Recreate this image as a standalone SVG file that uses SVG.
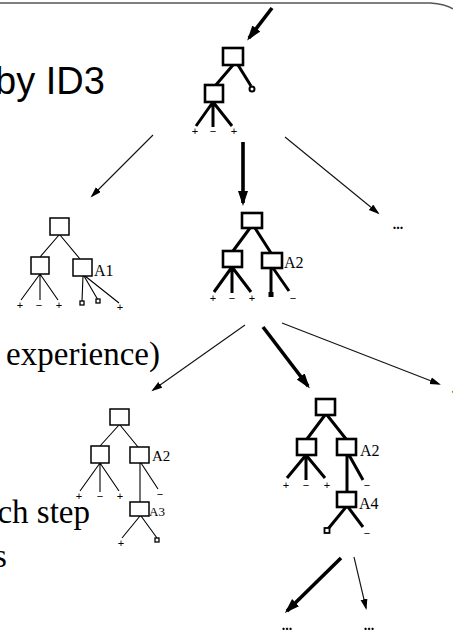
<svg xmlns="http://www.w3.org/2000/svg" width="453" height="632" viewBox="0 0 453 632">
<style>
.bx1{fill:#fff;stroke:#000;stroke-width:1.5}
.bx3{fill:#fff;stroke:#000;stroke-width:2.6}
.e1{stroke:#000;stroke-width:1.1;fill:none}
.e3{stroke:#000;stroke-width:3;fill:none}
.lf{font-family:"Liberation Sans",Arial,sans-serif;font-size:11px;fill:#000;text-anchor:middle}
.at{font-family:"Liberation Serif","Times New Roman",serif;fill:#000}
.dots{font-family:"Liberation Serif","Times New Roman",serif;font-size:14px;font-weight:bold;fill:#000;text-anchor:middle}
.big{font-family:"Liberation Serif","Times New Roman",serif;font-size:33px;fill:#000}
.thin{stroke:#111;stroke-width:1.1;fill:none}
.thick{stroke:#000;stroke-width:3.6;fill:none}
</style>
<defs>
<marker id="hThin" markerUnits="userSpaceOnUse" markerWidth="12" markerHeight="8" refX="9" refY="3.5" orient="auto"><path d="M0,0 L11,3.5 L0,7 Z" fill="#000"/></marker>
<marker id="hThick" markerUnits="userSpaceOnUse" markerWidth="16" markerHeight="11" refX="12" refY="5" orient="auto"><path d="M0,0 L15,5 L0,10 Z" fill="#000"/></marker>
</defs>
<rect width="453" height="632" fill="#fff"/>
<g id="frame">
<path d="M0,3 H430 Q446,4 453,9" fill="none" stroke="#555" stroke-width="1.5"/>
</g>
<g id="text">
<text x="-5" y="94" font-family="'Liberation Sans',Arial,sans-serif" font-size="38" fill="#000">by ID3</text>
<text class="big" x="160" y="365" text-anchor="end">experience)</text>
<text class="big" x="90" y="523" text-anchor="end">ch step</text>
<text class="big" x="-6" y="567">s</text>
</g>
<g id="connectors">
<line class="thick" x1="272" y1="8" x2="249" y2="38" marker-end="url(#hThick)"/>
<line class="thick" x1="243" y1="142" x2="243" y2="203" marker-end="url(#hThick)"/>
<line class="thick" x1="263" y1="327" x2="308" y2="386" marker-end="url(#hThick)"/>
<line class="thick" x1="341" y1="558" x2="287" y2="611" marker-end="url(#hThick)"/>
<line class="thin" x1="153" y1="135" x2="92" y2="196" marker-end="url(#hThin)"/>
<line class="thin" x1="285" y1="137" x2="378" y2="213" marker-end="url(#hThin)"/>
<line class="thin" x1="245" y1="325" x2="153" y2="390" marker-end="url(#hThin)"/>
<line class="thin" x1="282" y1="323" x2="439" y2="384" marker-end="url(#hThin)"/>
<line class="thin" x1="354" y1="557" x2="366" y2="608" marker-end="url(#hThin)"/>
<text class="dots" x="398" y="229">...</text>
<text class="dots" x="457" y="393">...</text>
<text class="dots" x="287" y="630">...</text>
<text class="dots" x="369" y="630">...</text>
</g>
<g id="tree-top">
<path class="e3" d="M233,65 L215,86 M238,65 L251,86 M213,102 L196,126 M213,102 L213,127 M213,102 L232,126"/>
<circle cx="252" cy="89" r="2.5" fill="#fff" stroke="#000" stroke-width="2"/>
<rect class="bx3" x="223" y="48" width="20" height="17"/>
<rect class="bx3" x="205" y="85" width="18" height="17"/>
<text class="lf" x="195" y="135">+</text>
<text class="lf" x="213" y="135">−</text>
<text class="lf" x="234" y="135">+</text>
</g>
<g id="tree-a1">
<path class="e1" d="M59,235 L40,257 M60,235 L80,259 M40,274 L21,300 M40,274 L40,300 M40,274 L58,300 M83,276 L82,301 M84,276 L98,300 M85,276 L119,303"/>
<rect class="bx1" x="50" y="218" width="19" height="17"/>
<rect class="bx1" x="31" y="257" width="18" height="17"/>
<rect class="bx1" x="73" y="259" width="19" height="17"/>
<text class="at" x="94" y="276" font-size="16">A1</text>
<text class="lf" x="20" y="309">+</text>
<text class="lf" x="39" y="309">−</text>
<text class="lf" x="59" y="309">+</text>
<rect x="80" y="301" width="4" height="4" fill="#fff" stroke="#000" stroke-width="1.3"/>
<rect x="96" y="299" width="4" height="4" fill="#fff" stroke="#000" stroke-width="1.3"/>
<text class="lf" x="120" y="311">+</text>
</g>
<g id="tree-a2">
<path class="e3" d="M250,228 L233,251 M255,228 L271,253 M232,267 L214,292 M232,267 L232,293 M232,267 L251,292 M271,268 L271,292 M273,268 L289,291"/>
<rect class="bx3" x="242" y="213" width="20" height="15"/>
<rect class="bx3" x="223" y="251" width="19" height="16"/>
<rect class="bx3" x="262" y="253" width="20" height="15"/>
<text class="at" x="284" y="268" font-size="16">A2</text>
<text class="lf" x="213" y="302">+</text>
<text class="lf" x="232" y="302">−</text>
<text class="lf" x="252" y="302">+</text>
<rect x="268.5" y="292" width="5" height="5" fill="#000"/>
<text class="lf" x="293" y="302">−</text>
</g>
<g id="tree-a3">
<path class="e1" d="M119,425 L100,446 M120,425 L138,447 M100,463 L80,491 M100,463 L100,492 M100,463 L119,491 M140,463 L140,502 M141,463 L158,489 M140,516 L122,538 M141,516 L157,538"/>
<rect class="bx1" x="110" y="409" width="19" height="16"/>
<rect class="bx1" x="91" y="446" width="18" height="17"/>
<rect class="bx1" x="130" y="447" width="19" height="16"/>
<rect class="bx1" x="130" y="502" width="19" height="14"/>
<text class="at" x="152" y="461" font-size="15">A2</text>
<text class="at" x="149" y="516" font-size="13">A3</text>
<text class="lf" x="79" y="500">+</text>
<text class="lf" x="100" y="500">−</text>
<text class="lf" x="120" y="500">+</text>
<text class="lf" x="160" y="498">−</text>
<text class="lf" x="121" y="547">+</text>
<rect x="155" y="538" width="4" height="4" fill="#fff" stroke="#000" stroke-width="1.3"/>
</g>
<g id="tree-a4">
<path class="e3" d="M325,415 L307,439 M327,415 L346,439 M306,455 L287,478 M306,455 L306,480 M306,455 L325,478 M347,455 L347,492 M349,455 L363,480 M346,507 L328,529 M348,507 L363,527"/>
<rect class="bx3" x="316" y="399" width="19" height="16"/>
<rect class="bx3" x="297" y="439" width="19" height="16"/>
<rect class="bx3" x="337" y="439" width="19" height="16"/>
<rect class="bx3" x="337" y="492" width="19" height="15"/>
<text class="at" x="360" y="456" font-size="16">A2</text>
<text class="at" x="359" y="509" font-size="16">A4</text>
<text class="lf" x="286" y="489">+</text>
<text class="lf" x="306" y="489">−</text>
<text class="lf" x="327" y="489">+</text>
<text class="lf" x="367" y="489">−</text>
<rect x="324.5" y="528" width="5" height="5" fill="#fff" stroke="#000" stroke-width="1.8"/>
<text class="lf" x="367" y="537">−</text>
</g>
</svg>
